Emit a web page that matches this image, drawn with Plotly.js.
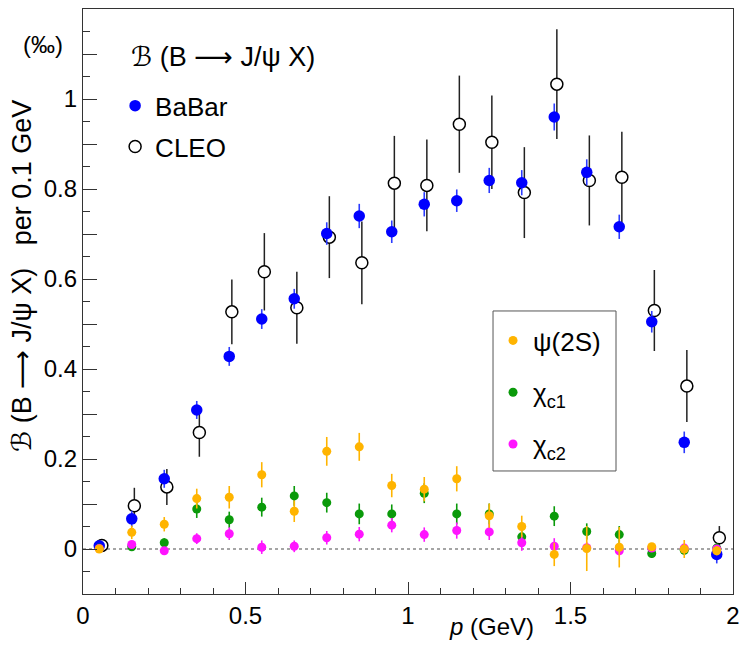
<!DOCTYPE html>
<html>
<head>
<meta charset="utf-8">
<script src="https://cdn.plot.ly/plotly-3.0.1.min.js"></script>
<style>html,body{margin:0;padding:0;background:#fff;}#chart{width:745px;height:659px;}</style>
</head>
<body>
<div id="chart"></div>
<script>
// momentum bins (GeV)
const pBins = [0.05,0.15,0.25,0.35,0.45,0.55,0.65,0.75,0.85,0.95,1.05,1.15,1.25,1.35,1.45,1.55,1.65,1.75,1.85,1.95];
const pCleo = [0.058,0.158,0.258,0.358,0.458,0.558,0.658,0.758,0.858,0.958,1.058,1.158,1.258,1.358,1.458,1.558,1.658,1.758,1.858,1.958];

// BaBar B -> J/psi X
const babarY   = [0.007,0.067,0.156,0.309,0.428,0.511,0.556,0.701,0.740,0.705,0.766,0.774,0.819,0.814,0.960,0.837,0.716,0.505,0.237,-0.012];
const babarErr = [0.008,0.018,0.020,0.020,0.021,0.022,0.022,0.025,0.027,0.025,0.027,0.025,0.028,0.028,0.030,0.029,0.027,0.024,0.024,0.020];

// CLEO B -> J/psi X
const cleoY   = [0.008,0.096,0.138,0.259,0.527,0.616,0.536,0.693,0.636,0.813,0.808,0.944,0.904,0.792,1.033,0.819,0.826,0.530,0.362,0.025];
const cleoErr = [0.008,0.040,0.040,0.054,0.072,0.086,0.080,0.091,0.092,0.105,0.102,0.108,0.104,0.101,0.122,0.100,0.101,0.090,0.080,0.026];

// feed-down components
const psiY    = [0.000,0.037,0.055,0.112,0.115,0.165,0.084,0.217,0.227,0.141,0.133,0.156,0.074,0.050,-0.012,0.001,0.004,0.005,0.000,-0.004];
const psiErr  = [0.005,0.015,0.016,0.022,0.025,0.028,0.024,0.032,0.031,0.026,0.027,0.028,0.027,0.024,0.026,0.050,0.045,0.008,0.020,0.010];
const chi1Y   = [0.002,0.005,0.014,0.089,0.065,0.093,0.118,0.103,0.078,0.078,0.124,0.078,0.078,0.027,0.073,0.039,0.032,-0.010,-0.003,0.002];
const chi1Err = [0.004,0.008,0.010,0.020,0.018,0.021,0.022,0.022,0.023,0.021,0.022,0.023,0.023,0.020,0.022,0.018,0.019,0.010,0.010,0.010];
const chi2Y   = [0.001,0.010,-0.004,0.023,0.034,0.004,0.006,0.025,0.033,0.053,0.032,0.041,0.038,0.014,0.006,0.003,-0.004,0.002,0.002,0.000];
const chi2Err = [0.004,0.008,0.008,0.012,0.014,0.015,0.013,0.015,0.016,0.016,0.016,0.018,0.018,0.018,0.018,0.012,0.010,0.008,0.010,0.008];

// axis ticks
const xTickVals = [0,0.5,1,1.5,2];
const xTickText = ['0','0.5','1','1.5','2'];
const yTickVals = [-0.1,0,0.1,0.2,0.3,0.4,0.5,0.6,0.7,0.8,0.9,1.0,1.1,1.2];
const yTickText = [' ','0',' ','0.2',' ','0.4',' ','0.6',' ','0.8',' ','1',' ',' '];

const FONT = '"Liberation Sans", Arial, "DejaVu Sans", sans-serif';
const BLUE = '#0000ff', ORANGE = '#ffb400', GREEN = '#0a9a0a', MAGENTA = '#ff14ff';

function small(name, x, y, e, color, rank) {
  return {
    type: 'scatter', mode: 'markers', name: name, x: x, y: y,
    error_y: {type: 'data', array: e, visible: true, color: color, thickness: 1.6, width: 0},
    marker: {color: color, size: 9},
    legend: 'legend2', legendgroup: name, legendrank: rank, cliponaxis: false
  };
}

const traces = [
  {
    type: 'scatter', mode: 'markers', name: 'CLEO', x: pCleo, y: cleoY,
    error_y: {type: 'data', array: cleoErr, visible: true, color: '#222', thickness: 1.5, width: 0},
    marker: {color: '#fff', size: 12, line: {color: '#000', width: 1.5}},
    legend: 'legend', legendgroup: 'cleo', legendrank: 2, cliponaxis: false
  },
  {
    type: 'scatter', mode: 'markers', name: 'BaBar', x: pBins, y: babarY,
    error_y: {type: 'data', array: babarErr, visible: true, color: '#2b3bff', thickness: 1.6, width: 0},
    marker: {color: BLUE, size: 11.5},
    legend: 'legend', legendgroup: 'babar', legendrank: 1, cliponaxis: false
  },
  small('χ<sub>c1</sub>', pBins, chi1Y, chi1Err, GREEN, 2),
  small('χ<sub>c2</sub>', pBins, chi2Y, chi2Err, MAGENTA, 3),
  small('ψ(2S)', pBins, psiY, psiErr, ORANGE, 1)
];

const layout = {
  width: 745, height: 659,
  margin: {l: 83, r: 12, t: 9, b: 65},
  paper_bgcolor: '#fff', plot_bgcolor: '#fff',
  font: {family: FONT, color: '#000'},
  showlegend: true,
  xaxis: {
    range: [0, 2], tickmode: 'array', tickvals: xTickVals, ticktext: xTickText,
    ticks: 'inside', ticklen: 12, tickwidth: 1, tickcolor: '#333',
    minor: {tickmode: 'linear', tick0: 0, dtick: 0.1, ticks: 'inside', ticklen: 6, tickcolor: '#333', tickwidth: 1},
    showline: true, linecolor: '#333', linewidth: 1.2, mirror: true,
    showgrid: false, zeroline: false,
    tickfont: {size: 24, family: FONT, color: '#000'}
  },
  yaxis: {
    range: [-0.1, 1.2], tickmode: 'array', tickvals: yTickVals, ticktext: yTickText,
    ticks: 'inside', ticklen: 14, tickwidth: 1, tickcolor: '#333',
    minor: {tickmode: 'linear', tick0: 0, dtick: 0.05, ticks: 'inside', ticklen: 7, tickcolor: '#333', tickwidth: 1},
    showline: true, linecolor: '#333', linewidth: 1.2, mirror: true,
    showgrid: false, zeroline: false,
    tickfont: {size: 24, family: FONT, color: '#000'}
  },
  legend: {
    x: 0.0494, y: 0.8748, xanchor: 'left', yanchor: 'top',
    bgcolor: 'rgba(0,0,0,0)', borderwidth: 0,
    traceorder: 'grouped', tracegroupgap: 4,
    font: {size: 26, family: FONT, color: '#000'}
  },
  legend2: {
    x: 0.6308, y: 0.4735, xanchor: 'left', yanchor: 'top',
    bgcolor: 'rgba(0,0,0,0)', borderwidth: 0,
    traceorder: 'grouped', tracegroupgap: 15,
    font: {size: 26, family: FONT, color: '#000'}
  },
  shapes: [
    {type: 'line', xref: 'x', yref: 'y', x0: 0, x1: 2, y0: 0, y1: 0, layer: 'below',
     line: {color: '#888', width: 1.5, dash: 'dot'}},
    {type: 'rect', xref: 'paper', yref: 'paper', x0: 0.6308, x1: 0.82, y0: 0.2103, y1: 0.4838,
     layer: 'above', fillcolor: '#fff', line: {color: '#555', width: 1}}
  ],
  annotations: [
    {text: 'ℬ (B ⟶ J/ψ X)', xref: 'paper', yref: 'paper', x: 0.0708, y: 0.918,
     xanchor: 'left', yanchor: 'middle', showarrow: false, font: {size: 27, family: FONT}},
    {text: '(‰)', xref: 'paper', yref: 'paper', x: -0.0615, y: 0.9385,
     xanchor: 'center', yanchor: 'middle', showarrow: false, font: {size: 24, family: FONT}},
    {text: 'ℬ (B ⟶ J/ψ X)   per 0.1 GeV', xref: 'paper', yref: 'paper', x: -0.0938, y: 0.5436,
     xanchor: 'center', yanchor: 'middle', textangle: -90, showarrow: false, font: {size: 27, family: FONT}},
    {text: '<i>p</i> (GeV)', xref: 'paper', yref: 'paper', x: 0.6292, y: -0.0564,
     xanchor: 'center', yanchor: 'middle', showarrow: false, font: {size: 24, family: FONT}}
  ]
};

Plotly.newPlot('chart', traces, layout, {displayModeBar: false, staticPlot: true});
</script>
</body>
</html>
